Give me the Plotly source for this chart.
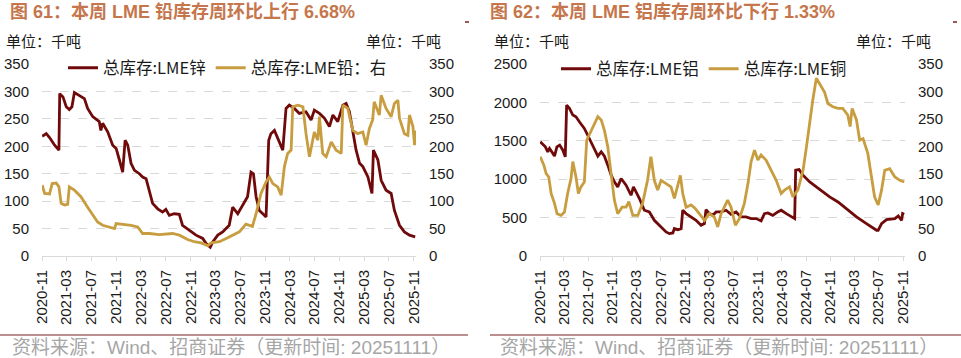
import plotly.graph_objects as go

# ---------------- data ----------------
zinc_dates = ["2020-11-02","2020-11-22","2020-12-08","2021-01-02","2021-01-23","2021-01-27","2021-02-12","2021-02-28",
              "2021-03-15","2021-03-28","2021-04-09","2021-05-03","2021-05-28","2021-06-13","2021-07-08","2021-08-09",
              "2021-08-17","2021-08-26","2021-09-20","2021-10-14","2021-10-31","2021-11-16","2021-12-02","2021-12-14",
              "2021-12-27","2022-01-12","2022-01-29","2022-02-22","2022-03-10","2022-03-27","2022-04-12","2022-04-28",
              "2022-05-23","2022-06-16","2022-07-02","2022-07-19","2022-08-12","2022-09-06","2022-09-22","2022-10-25",
              "2022-11-27","2022-12-30","2023-01-15","2023-02-05","2023-02-18","2023-03-14","2023-04-07","2023-05-09",
              "2023-05-26","2023-06-20","2023-07-22","2023-08-07","2023-08-24","2023-09-05","2023-09-18","2023-10-04",
              "2023-10-21","2023-11-06","2023-11-19","2023-11-30","2023-12-17","2024-01-10","2024-01-27","2024-02-12",
              "2024-02-28","2024-03-24","2024-04-17","2024-05-20","2024-06-14","2024-06-30","2024-07-25","2024-08-19",
              "2024-09-12","2024-09-29","2024-10-23","2024-11-17","2024-12-03","2024-12-19","2025-01-05","2025-01-21",
              "2025-02-07","2025-02-23","2025-03-20","2025-04-09","2025-04-16","2025-05-08","2025-05-24","2025-06-17",
              "2025-07-12","2025-07-28","2025-08-22","2025-09-15","2025-10-10","2025-11-07"]
zinc_vals = [218,223,216,202,193,296,290,272,267,272,298,293,287,269,254,245,229,242,226,202,196,175,153,211,
             202,169,156,150,144,141,120,96,86,80,85,74,77,76,56,47,38,32,23,16,26,38,44,56,89,77,99,108,153,150,
             108,83,77,71,211,223,229,208,193,269,275,269,260,263,248,266,260,251,236,257,245,275,278,263,223,193,
             169,163,144,114,193,175,138,120,114,83,56,44,38,35]

lead_dates = ["2020-11-02","2020-11-14","2020-12-08","2020-12-21","2021-01-10","2021-01-23","2021-02-03","2021-02-20",
              "2021-03-07","2021-03-15","2021-04-09","2021-05-11","2021-06-13","2021-07-08","2021-08-01","2021-08-26",
              "2021-09-28","2021-10-23","2021-10-31","2021-12-02","2022-01-12","2022-02-14","2022-03-10","2022-04-12",
              "2022-05-31","2022-08-04","2022-09-06","2022-10-17","2022-11-19","2022-12-22","2023-01-24","2023-02-10",
              "2023-03-22","2023-04-24","2023-05-26","2023-06-28","2023-07-30","2023-08-31","2023-09-18","2023-10-12",
              "2023-11-06","2023-11-22","2023-12-09","2024-01-02","2024-01-19","2024-02-04","2024-02-20","2024-03-08",
              "2024-03-16","2024-04-10","2024-05-05","2024-05-20","2024-06-06","2024-06-30","2024-07-17","2024-07-25",
              "2024-08-10","2024-08-27","2024-09-21","2024-10-15","2024-11-09","2024-11-17","2024-12-11","2025-01-05",
              "2025-01-29","2025-02-23","2025-03-11","2025-03-27","2025-04-12","2025-04-20","2025-05-15","2025-05-24",
              "2025-06-17","2025-07-12","2025-07-28","2025-08-14","2025-08-22","2025-09-15","2025-10-02","2025-10-10",
              "2025-10-27","2025-11-04","2025-11-10"]
lead_vals = [129,114,113,132,133,126,96,93,94,126,120,108,89,74,62,56,53,50,59,58,56,53,41,41,39,41,38,30,26,
             24,19,24,26,32,38,44,58,54,77,114,135,144,132,126,111,163,187,193,272,275,272,223,181,226,211,254,
             187,181,208,193,187,275,269,229,223,226,202,232,248,281,257,293,269,254,278,284,251,223,220,257,
             236,202,229]

alu_dates = ["2020-11-02","2020-11-28","2020-12-10","2020-12-19","2021-01-05","2021-01-13","2021-01-25","2021-02-08",
             "2021-02-24","2021-03-08","2021-03-15","2021-03-29","2021-04-15","2021-05-01","2021-05-18","2021-06-12",
             "2021-07-07","2021-08-02","2021-08-19","2021-09-05","2021-09-21","2021-10-08","2021-10-25","2021-11-10",
             "2021-11-27","2021-12-14","2022-01-08","2022-02-02","2022-02-14","2022-02-27","2022-03-16","2022-04-10",
             "2022-05-05","2022-05-30","2022-07-03","2022-07-28","2022-08-14","2022-08-31","2022-09-08","2022-09-25",
             "2022-10-12","2022-10-20","2022-11-06","2022-12-01","2022-12-26","2023-01-20","2023-02-06","2023-02-14",
             "2023-03-03","2023-03-20","2023-04-06","2023-05-01","2023-05-26","2023-06-20","2023-07-15","2023-08-09",
             "2023-09-03","2023-09-29","2023-10-24","2023-11-18","2023-12-05","2023-12-22","2024-01-16","2024-02-10",
             "2024-02-27","2024-03-24","2024-04-18","2024-05-05","2024-05-10","2024-05-27","2024-06-16","2024-07-20",
             "2024-08-22","2024-09-25","2024-10-28","2024-12-09","2025-01-20","2025-03-12","2025-05-01","2025-06-21",
             "2025-06-29","2025-07-16","2025-08-10","2025-09-21","2025-10-08","2025-10-25","2025-10-30","2025-11-07"]
alu_vals = [1487,1422,1357,1400,1335,1300,1422,1444,1378,1291,1965,1922,1835,1813,1748,1661,1530,1400,1300,1357,
            1300,1183,1052,965,900,1009,922,791,900,835,748,596,574,465,378,313,291,300,357,343,357,596,552,509,
            465,400,422,604,552,530,574,574,596,543,574,509,509,487,487,457,552,561,530,574,596,552,509,487,1117,
            1126,1052,965,900,835,770,704,617,509,422,335,335,422,474,487,522,465,552,543]

cu_dates = ["2020-11-02","2020-11-20","2020-12-02","2020-12-15","2020-12-27","2021-01-13","2021-01-26","2021-02-15",
            "2021-03-04","2021-03-20","2021-04-06","2021-04-15","2021-05-01","2021-05-13","2021-05-26","2021-06-12",
            "2021-06-24","2021-07-15","2021-08-02","2021-08-19","2021-09-05","2021-09-21","2021-10-08","2021-10-25",
            "2021-11-10","2021-11-27","2021-12-19","2022-01-08","2022-01-22","2022-02-11","2022-03-08","2022-04-01",
            "2022-04-26","2022-05-13","2022-05-30","2022-06-16","2022-07-03","2022-07-28","2022-08-22","2022-09-08",
            "2022-09-25","2022-10-08","2022-10-20","2022-11-06","2022-12-01","2022-12-23","2023-01-12","2023-02-06",
            "2023-03-03","2023-03-28","2023-04-14","2023-05-01","2023-06-03","2023-06-20","2023-07-12","2023-08-01",
            "2023-08-26","2023-09-13","2023-09-29","2023-10-16","2023-11-02","2023-11-18","2023-12-13","2024-01-08",
            "2024-02-02","2024-02-27","2024-03-15","2024-04-09","2024-04-26","2024-05-21","2024-06-16","2024-07-01",
            "2024-07-18","2024-08-04","2024-08-22","2024-09-07","2024-10-02","2024-10-19","2024-11-13","2024-12-09",
            "2025-01-02","2025-01-27","2025-02-08","2025-02-18","2025-03-12","2025-03-28","2025-04-14","2025-05-08",
            "2025-05-25","2025-06-11","2025-06-29","2025-07-16","2025-08-01","2025-08-26","2025-09-21","2025-10-16",
            "2025-11-07"]
cu_vals = [181,166,150,144,114,96,77,74,80,114,141,172,144,114,126,135,211,226,239,254,248,229,199,144,102,77,
           89,89,99,74,74,96,138,181,138,120,138,132,126,105,132,147,114,89,93,86,77,65,77,71,53,77,102,89,56,68,
           96,132,172,193,175,184,175,156,138,114,120,126,108,120,156,193,242,284,324,315,299,278,272,269,269,257,
           236,269,248,211,214,187,150,108,93,120,156,159,144,138,135]

tick_dates = ["2020-11-01","2021-03-01","2021-07-01","2021-11-01","2022-03-01","2022-07-01","2022-11-01","2023-03-01",
              "2023-07-01","2023-11-01","2024-03-01","2024-07-01","2024-11-01","2025-03-01","2025-07-01","2025-11-01"]
tick_text = ["2020-11","2021-03","2021-07","2021-11","2022-03","2022-07","2022-11","2023-03",
             "2023-07","2023-11","2024-03","2024-07","2024-11","2025-03","2025-07","2025-11"]

left_ticks_a = [0, 50, 100, 150, 200, 250, 300, 350]
right_ticks_a = [0, 500, 1000, 1500, 2000, 2500]

names = ["总库存:LME锌", "总库存:LME铅：右", "总库存:LME铝", "总库存:LME铜"]
titles = ["图 61：本周 LME 铅库存周环比上行 6.68%", "图 62：本周 LME 铝库存周环比下行 1.33%"]
unit = "单位：千吨"
source = "资料来源：Wind、招商证券（更新时间: 20251111）"

# ---------------- styling ----------------
W, H = 961, 358
DARK = "#700A0A"
GOLD = "#C79D3F"
GRID = "#D9D9D9"
TITLE_C = "#C6764C"
FONT = "'Liberation Sans', Arial, 'Noto Sans CJK SC', sans-serif"
CJK = "'Noto Sans CJK SC', 'Liberation Sans', sans-serif"

def fx(p):
    return p / W

def fy(p):
    return 1 - p / H

ydom = [fy(256), fy(64)]
x_range = ["2020-11-01", "2025-11-11"]

fig = go.Figure()
fig.add_trace(go.Scatter(x=zinc_dates, y=zinc_vals, name=names[0], mode="lines",
                         line=dict(color=DARK, width=2.8), xaxis="x", yaxis="y", legend="legend"))
fig.add_trace(go.Scatter(x=lead_dates, y=lead_vals, name=names[1], mode="lines",
                         line=dict(color=GOLD, width=2.8), xaxis="x", yaxis="y2", legend="legend"))
fig.add_trace(go.Scatter(x=alu_dates, y=alu_vals, name=names[2], mode="lines",
                         line=dict(color=DARK, width=2.8), xaxis="x2", yaxis="y3", legend="legend2"))
fig.add_trace(go.Scatter(x=cu_dates, y=cu_vals, name=names[3], mode="lines",
                         line=dict(color=GOLD, width=2.8), xaxis="x2", yaxis="y4", legend="legend2"))

xcommon = dict(type="date", range=x_range, tickvals=tick_dates, ticktext=tick_text, tickangle=-90,
               showline=True, linecolor=GRID, linewidth=1, ticks="outside", ticklen=4, tickcolor=GRID,
               showgrid=False, zeroline=False, tickfont=dict(family=FONT, size=15, color="#1A1A1A"),
               automargin=False, fixedrange=True, ticklabelstandoff=3)
ycommon = dict(showline=False, zeroline=False, ticks="", automargin=False, ticklabelstandoff=12,
               tickfont=dict(family=FONT, size=15, color="#1A1A1A"), fixedrange=True)

fig.update_layout(
    width=W, height=H, autosize=False,
    margin=dict(l=0, r=0, t=0, b=0),
    paper_bgcolor="white", plot_bgcolor="white",
    xaxis=dict(domain=[fx(42), fx(416)], anchor="y", **xcommon),
    yaxis=dict(domain=ydom, range=[0, 350], tickvals=left_ticks_a, showgrid=True, gridcolor=GRID,
               griddash="dash", gridwidth=1, anchor="x", **ycommon),
    yaxis2=dict(range=[0, 350], tickvals=left_ticks_a, overlaying="y", side="right", anchor="x",
                showgrid=False, **ycommon),
    xaxis2=dict(domain=[fx(540), fx(905)], anchor="y3", **xcommon),
    yaxis3=dict(domain=ydom, range=[0, 2500], tickvals=right_ticks_a, showgrid=True, gridcolor=GRID,
                griddash="dash", gridwidth=1, anchor="x2", **ycommon),
    yaxis4=dict(range=[0, 350], tickvals=left_ticks_a, overlaying="y3", side="right", anchor="x2",
                showgrid=False, **ycommon),
    legend=dict(orientation="h", x=fx(63), y=fy(68), xanchor="left", yanchor="middle",
                bgcolor="rgba(0,0,0,0)", font=dict(family=CJK, size=16.5, color="#1A1A1A"),
                itemwidth=30, tracegroupgap=0),
    legend2=dict(orientation="h", x=fx(556), y=fy(69), xanchor="left", yanchor="middle",
                 bgcolor="rgba(0,0,0,0)", font=dict(family=CJK, size=16.5, color="#1A1A1A"),
                 itemwidth=30, tracegroupgap=0),
    showlegend=True,
)

ann = []
for x0, t in [(8, titles[0]), (488, titles[1])]:
    ann.append(dict(text="<b>" + t + "</b>", x=fx(x0), y=fy(12), xref="paper", yref="paper",
                    xanchor="left", yanchor="middle", showarrow=False,
                    font=dict(family=FONT, size=18, color=TITLE_C)))
for x0 in [4, 364, 492, 854]:
    ann.append(dict(text=unit, x=fx(x0), y=fy(40), xref="paper", yref="paper",
                    xanchor="left", yanchor="middle", showarrow=False,
                    font=dict(family=CJK, size=15, color="#1A1A1A")))
for x0 in [10, 498]:
    ann.append(dict(text=source, x=fx(x0), y=fy(347), xref="paper", yref="paper",
                    xanchor="left", yanchor="middle", showarrow=False,
                    font=dict(family=FONT, size=19, color="#A6A6A6")))
fig.update_layout(annotations=ann)

shapes = [
    dict(type="line", xref="paper", yref="paper", x0=fx(0), x1=fx(468), y0=fy(335), y1=fy(335),
         line=dict(color="#7A1E1E", width=1)),
    dict(type="line", xref="paper", yref="paper", x0=fx(490), x1=fx(961), y0=fy(335), y1=fy(335),
         line=dict(color="#7A1E1E", width=1)),
    dict(type="line", xref="paper", yref="paper", x0=fx(465), x1=fx(469), y0=fy(22), y1=fy(22),
         line=dict(color="#7A1E1E", width=1.5)),
    dict(type="line", xref="paper", yref="paper", x0=fx(953), x1=fx(957), y0=fy(22), y1=fy(22),
         line=dict(color="#7A1E1E", width=1.5)),
]
fig.update_layout(shapes=shapes)

fig.write_html("out.html", config={"displayModeBar": False},
               post_script="document.body.style.margin='0';document.body.style.overflow='hidden';")
